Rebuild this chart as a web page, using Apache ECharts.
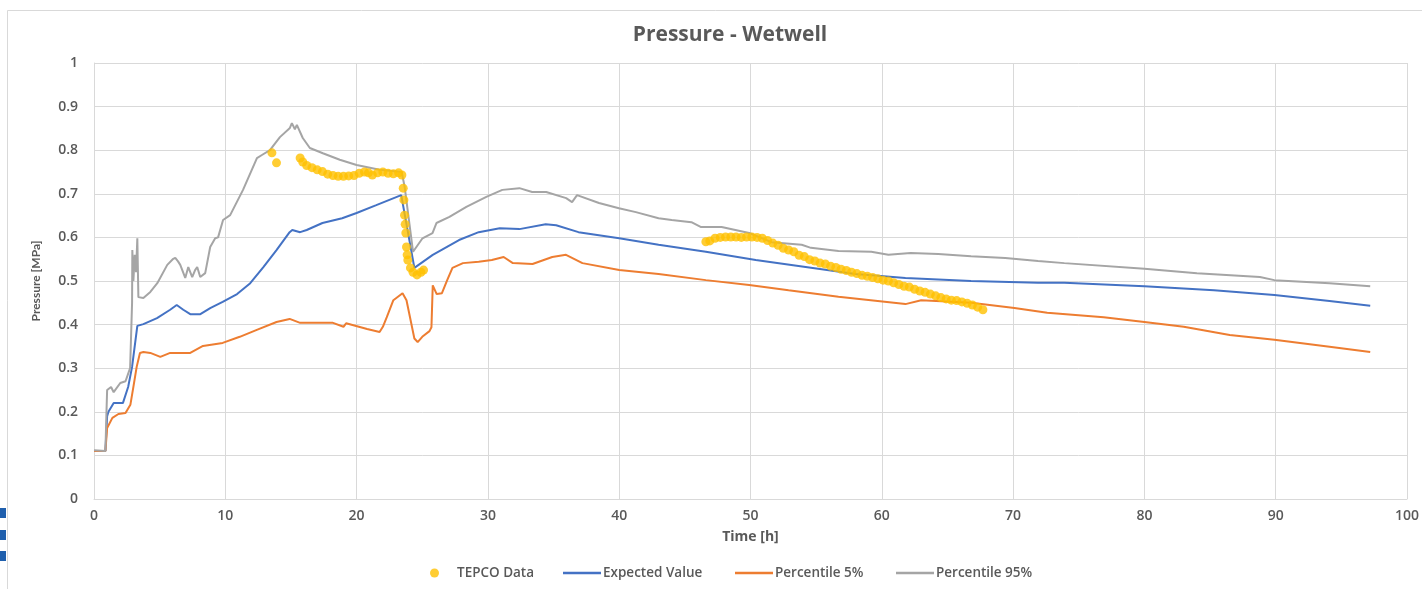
<!DOCTYPE html>
<html>
<head>
<meta charset="utf-8">
<script src="https://cdn.jsdelivr.net/npm/echarts@6/dist/echarts.min.js"></script>
<style>
  html, body { margin: 0; padding: 0; background: #ffffff; }
  #chart { width: 1422px; height: 589px; }
</style>
</head>
<body>
<div id="chart"></div>
<script>
// Wetwell pressure [MPa] versus time [h]
const xTicks = { min: 0, max: 100, interval: 10 };
const yTicks = { min: 0, max: 1, interval: 0.1 };

// Measured plant data (time h, pressure MPa)
const tepcoData = [
  [13.55,0.794],[13.9,0.771],[15.7,0.782],[15.9,0.773],[16.2,0.765],[16.6,0.760],[17.0,0.755],
  [17.4,0.751],[17.8,0.745],[18.2,0.742],[18.6,0.740],[19.0,0.740],[19.4,0.741],[19.8,0.742],
  [20.2,0.747],[20.6,0.750],[20.9,0.748],[21.2,0.743],[21.6,0.748],[22.0,0.750],[22.4,0.747],
  [22.8,0.746],[23.2,0.748],[23.45,0.743],[23.55,0.713],[23.6,0.686],[23.65,0.651],[23.7,0.630],
  [23.75,0.610],[23.8,0.578],[23.85,0.560],[23.9,0.548],[24.1,0.530],[24.3,0.520],[24.6,0.514],
  [24.9,0.520],[25.1,0.525],
  [46.6,0.590],[46.9,0.592],[47.3,0.598],[47.7,0.600],[48.1,0.601],[48.5,0.601],[48.9,0.601],
  [49.3,0.600],[49.7,0.601],[50.1,0.601],[50.5,0.600],[50.9,0.598],[51.3,0.593],[51.7,0.587],
  [52.1,0.582],[52.5,0.575],[52.9,0.571],[53.3,0.567],[53.7,0.559],[54.1,0.556],[54.5,0.549],
  [54.9,0.546],[55.3,0.541],[55.7,0.539],[56.1,0.534],[56.5,0.531],[56.9,0.527],[57.3,0.524],
  [57.7,0.520],[58.1,0.517],[58.5,0.513],[58.9,0.511],[59.3,0.508],[59.7,0.505],[60.1,0.502],
  [60.5,0.500],[60.9,0.496],[61.3,0.492],[61.7,0.488],[62.1,0.486],[62.5,0.481],[62.9,0.477],
  [63.3,0.474],[63.7,0.470],[64.1,0.466],[64.5,0.462],[64.9,0.459],[65.3,0.456],[65.7,0.455],
  [66.1,0.452],[66.5,0.449],[66.9,0.445],[67.3,0.440],[67.7,0.434]
];

// Best-estimate simulation
const expectedValue = [
  [0,0.11],[0.87,0.11],[1.0,0.19],[1.1,0.20],[1.5,0.22],[2.2,0.22],[2.6,0.257],[2.9,0.303],
  [3.3,0.397],[3.76,0.401],[4.8,0.415],[5.8,0.434],[6.3,0.445],[6.8,0.434],[7.33,0.424],[8.1,0.424],
  [8.85,0.438],[9.8,0.452],[10.9,0.47],[11.9,0.495],[12.9,0.532],[13.9,0.571],[14.9,0.612],
  [15.1,0.617],[15.7,0.612],[16.2,0.617],[17.4,0.633],[18.9,0.644],[20.0,0.656],[21.5,0.674],
  [23.4,0.697],[24.4,0.53],[25.8,0.56],[27.8,0.594],[29.3,0.612],[30.9,0.621],[32.4,0.619],
  [34.4,0.63],[35.2,0.628],[36.9,0.612],[40,0.598],[43,0.583],[46.6,0.567],[50.4,0.548],
  [54.2,0.532],[58,0.516],[61.8,0.507],[66.8,0.5],[71.9,0.496],[73.9,0.496],[80,0.488],
  [85.3,0.479],[89.9,0.468],[94.1,0.454],[97.2,0.443]
];

// Lower uncertainty bound
const percentile5 = [
  [0,0.11],[0.87,0.11],[1.0,0.163],[1.4,0.186],[1.86,0.195],[2.4,0.197],[2.77,0.216],[3.0,0.257],
  [3.25,0.303],[3.5,0.335],[3.76,0.337],[4.29,0.335],[5.05,0.326],[5.8,0.335],[6.57,0.335],
  [7.33,0.335],[8.3,0.351],[9.8,0.358],[11.1,0.372],[12.4,0.388],[13.9,0.406],[14.9,0.413],
  [15.7,0.404],[18.2,0.404],[19.0,0.395],[19.2,0.403],[20.8,0.39],[21.75,0.383],[22.0,0.395],
  [22.3,0.417],[22.8,0.456],[23.5,0.472],[23.8,0.456],[24.4,0.368],[24.65,0.36],[25.0,0.372],
  [25.55,0.385],[25.7,0.394],[25.8,0.49],[26.1,0.47],[26.5,0.472],[26.9,0.502],[27.3,0.53],
  [28.1,0.541],[29.3,0.544],[30.3,0.548],[31.2,0.555],[31.9,0.541],[33.4,0.539],[34.9,0.555],
  [35.95,0.56],[37.2,0.541],[40,0.525],[43,0.516],[46.6,0.502],[49.9,0.491],[52.9,0.479],
  [56.7,0.464],[61.8,0.447],[63,0.456],[66.8,0.45],[70.1,0.438],[72.6,0.427],[76.9,0.417],
  [80,0.406],[83,0.395],[86.5,0.376],[89.9,0.365],[94.1,0.349],[97.2,0.337]
];

// Upper uncertainty bound
const percentile95 = [
  [0,0.112],[0.87,0.11],[0.95,0.2],[1.0,0.25],[1.3,0.257],[1.5,0.245],[2.0,0.266],[2.4,0.27],
  [2.75,0.30],[2.9,0.45],[2.92,0.571],[3.0,0.50],[3.1,0.56],[3.2,0.52],[3.3,0.598],[3.38,0.463],
  [3.76,0.461],[4.29,0.475],[4.82,0.495],[5.58,0.537],[6.0,0.55],[6.19,0.553],[6.4,0.545],
  [6.57,0.537],[6.95,0.507],[7.18,0.532],[7.48,0.509],[7.7,0.525],[7.86,0.532],[8.09,0.509],
  [8.47,0.518],[8.85,0.578],[9.23,0.598],[9.45,0.60],[9.83,0.64],[10.37,0.651],[11.35,0.709],
  [12.41,0.782],[12.79,0.789],[13.4,0.80],[14.16,0.83],[14.92,0.851],[15.07,0.862],[15.3,0.848],
  [15.45,0.858],[15.9,0.828],[16.44,0.805],[17.43,0.793],[18.72,0.778],[20.0,0.766],[21.75,0.755],
  [23.43,0.75],[23.66,0.716],[24.3,0.567],[25.02,0.598],[25.78,0.61],[26.08,0.633],[27.07,0.647],
  [28.36,0.67],[29.88,0.693],[31.1,0.709],[32.4,0.713],[33.37,0.704],[34.44,0.704],[35.96,0.69],
  [36.41,0.681],[36.79,0.697],[38.46,0.679],[39.98,0.667],[41.27,0.658],[43.0,0.644],[44,0.64],
  [45.5,0.635],[46.2,0.624],[47.8,0.624],[49.9,0.61],[51.6,0.589],[53.9,0.583],[54.6,0.576],
  [56.7,0.569],[59.2,0.567],[60.5,0.56],[62.2,0.564],[64.3,0.562],[66.8,0.557],[69.4,0.553],
  [71.9,0.546],[73.9,0.541],[80,0.528],[84,0.518],[88.8,0.509],[89.9,0.502],[94.1,0.495],[97.2,0.488]
];

const textColor = '#595959';
const gridColor = '#d9d9d9';
const legendFont = { color: textColor, fontFamily: 'Open Sans', fontSize: 13.5, fontWeight: 600 };

const chart = echarts.init(document.getElementById('chart'), null, { renderer: 'canvas' });

function lineSeries(name, data, color) {
  return {
    name, type: 'line', data, symbol: 'none', smooth: false,
    lineStyle: { color, width: 2 }, itemStyle: { color }, z: 3
  };
}

// One legend block per entry so each swatch sits at its own offset
function legendAt(left, name, icon, w, h, pad) {
  return {
    left, top: 566, padding: 0, data: [{ name, icon }], itemWidth: w, itemHeight: h,
    selectedMode: false, textStyle: Object.assign({ padding: [0, 0, 0, pad] }, legendFont)
  };
}

chart.setOption({
  backgroundColor: '#ffffff',
  animation: false,
  title: {
    text: 'Pressure - Wetwell',
    left: 725, top: 20, textAlign: 'center',
    textStyle: { color: textColor, fontFamily: 'Open Sans', fontSize: 21, fontWeight: 'bold' }
  },
  legend: [
    legendAt(430, 'TEPCO Data', 'circle', 9, 9, 13),
    legendAt(563, 'Expected Value', 'rect', 38, 2.5, -3),
    legendAt(735, 'Percentile 5%', 'rect', 38, 2.5, -3),
    legendAt(896, 'Percentile 95%', 'rect', 38, 2.5, -3)
  ],
  grid: { left: 94, right: 12, top: 63, bottom: 90, containLabel: false },
  xAxis: {
    type: 'value', min: xTicks.min, max: xTicks.max, interval: xTicks.interval,
    name: 'Time [h]', nameLocation: 'middle', nameGap: 31,
    nameTextStyle: { color: textColor, fontFamily: 'Open Sans', fontSize: 14, fontWeight: 'bold' },
    axisLine: { lineStyle: { color: gridColor } },
    axisTick: { show: false },
    axisLabel: { color: textColor, fontFamily: 'Open Sans', fontSize: 14, fontWeight: 600, margin: 10 },
    splitLine: { show: true, lineStyle: { color: gridColor, width: 1 } }
  },
  yAxis: {
    type: 'value', min: yTicks.min, max: yTicks.max, interval: yTicks.interval,
    name: 'Pressure [MPa]', nameLocation: 'middle', nameGap: 52, nameRotate: 90,
    nameTextStyle: { color: textColor, fontFamily: 'Lato', fontSize: 12, fontWeight: 'bold' },
    axisLine: { show: true, lineStyle: { color: gridColor } },
    axisTick: { show: false },
    axisLabel: { color: textColor, fontFamily: 'Open Sans', fontSize: 14, fontWeight: 600, margin: 16 },
    splitLine: { show: true, lineStyle: { color: gridColor, width: 1 } }
  },
  graphic: [
    { type: 'rect', silent: true, z: -1,
      shape: { x: 7.5, y: 10.5, width: 1500, height: 700 },
      style: { fill: 'none', stroke: '#d9d9d9', lineWidth: 1 } },
    { type: 'rect', silent: true, shape: { x: 0, y: 508, width: 6, height: 10 }, style: { fill: '#1f5fad' } },
    { type: 'rect', silent: true, shape: { x: 0, y: 530, width: 6, height: 10 }, style: { fill: '#1f5fad' } },
    { type: 'rect', silent: true, shape: { x: 0, y: 551, width: 6, height: 10 }, style: { fill: '#1f5fad' } }
  ],
  series: [
    {
      name: 'TEPCO Data', type: 'scatter', data: tepcoData,
      symbol: 'circle', symbolSize: 9,
      itemStyle: { color: '#FFC000' }, z: 4
    },
    lineSeries('Expected Value', expectedValue, '#4472C4'),
    lineSeries('Percentile 5%', percentile5, '#ED7D31'),
    lineSeries('Percentile 95%', percentile95, '#A5A5A5')
  ]
});
</script>
</body>
</html>
